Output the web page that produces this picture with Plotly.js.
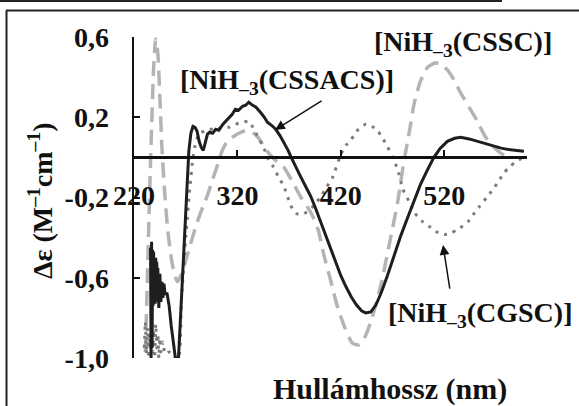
<!DOCTYPE html>
<html>
<head>
<meta charset="utf-8">
<script src="https://cdn.plot.ly/plotly-3.0.1.min.js"></script>
<style>html,body{margin:0;padding:0;background:#fff;}#chart{width:579px;height:406px;}</style>
</head>
<body>
<div id="chart"></div>
<script>
// ---- Data ----
var xTickVals = [220, 320, 420, 520];
var xTickText = ['220', '320', '420', '520'];
var yTickVals = [-1.0, -0.6, -0.2, 0.2, 0.6];
var yTickText = ['-1,0', '-0,6', '-0,2', '0,2', '0,6'];

// [NiH-3(CSSC)] - light gray dashed
var cssc_x = [231,233,235,237,239,241,243,245,247,250,253,256,259,262,266,272,280,287,291,296,301,305,310,318,326,333,340,346,352,358,365,373,381,391,398,404,410,417,424,431,437,441,449,459,467,475,481,486,491,497,504,511,517,524,530,536,544,552,560,568,575,582];
var cssc_y = [-0.97,-0.6,-0.2,0.15,0.45,0.59,0.52,0.3,0.05,-0.2,-0.38,-0.5,-0.58,-0.62,-0.58,-0.48,-0.34,-0.24,-0.19,-0.11,-0.035,0.03,0.08,0.11,0.13,0.13,0.1,0.05,0.01,-0.02,-0.05,-0.12,-0.195,-0.275,-0.36,-0.495,-0.61,-0.75,-0.85,-0.925,-0.935,-0.92,-0.82,-0.63,-0.43,-0.22,-0.02,0.12,0.27,0.38,0.45,0.47,0.465,0.43,0.38,0.32,0.25,0.18,0.1,0.05,0.02,0.0];

// [NiH-3(CGSC)] - gray dotted
var cgsc_x = [230,231,232,233,234,235,236,237,238,239,240,241,242,243,244,245,246,248,250,254,258,263,266,270,274,277,280,283,288,293,300,306,312,318,325,331,336,340,345,349,354,360,365,372,377,382,388,393,400,406,412,420,425,430,437,444,450,456,461,465,470,475,480,486,491,499,507,514,520,527,533,543,548,554,561,567,573,578,583,588,593,597];
var cgsc_y = [-0.95,-0.82,-0.98,-0.85,-1.0,-0.88,-0.95,-0.8,-0.97,-0.86,-1.0,-0.83,-0.95,-0.88,-1.0,-0.9,-0.97,-0.92,-0.98,-0.97,-1.0,-1.0,-0.7,-0.4,-0.15,0.0,0.08,0.12,0.13,0.14,0.14,0.15,0.15,0.165,0.175,0.18,0.14,0.1,0.055,0.0,-0.04,-0.1,-0.145,-0.245,-0.28,-0.285,-0.27,-0.245,-0.2,-0.15,-0.1,0.015,0.06,0.09,0.14,0.165,0.155,0.13,0.09,0.055,0.0,-0.06,-0.16,-0.22,-0.275,-0.32,-0.35,-0.375,-0.385,-0.375,-0.36,-0.32,-0.285,-0.245,-0.2,-0.16,-0.115,-0.075,-0.05,-0.025,-0.01,0.0];

// [NiH-3(CSSACS)] - black solid
var cssacs_x = [236,236.5,237,237.5,238,238.5,239,239.5,240,240.5,241,241.5,242,242.5,243,244,245,246,247,248,249,250,252,254,256,258,260,263,265,267,269,271,273,275,277,279,281,283,285,287,289,291,293,296,299,302,306,309,312,315,318,321,325,328,331,334,338,341,343,346,349,353,357,361,365,369,372,376,381,386,391,396,401,406,410,415,420,425,430,435,440,444,449,454,459,465,471,478,485,491,497,504,510,516,523,530,536,544,552,560,568,575,581,588,594,597];
var cssacs_y = [-0.45,-1.0,-0.42,-0.95,-0.46,-0.74,-0.47,-0.7,-0.5,-0.73,-0.5,-0.7,-0.52,-0.72,-0.55,-0.75,-0.58,-0.72,-0.62,-0.7,-0.63,-0.68,-0.68,-0.74,-0.84,-0.93,-1.0,-1.0,-0.78,-0.55,-0.35,-0.15,0.03,0.12,0.155,0.15,0.13,0.08,0.05,0.035,0.08,0.115,0.125,0.12,0.14,0.135,0.165,0.18,0.2,0.215,0.24,0.235,0.255,0.26,0.275,0.262,0.25,0.235,0.22,0.2,0.175,0.16,0.14,0.11,0.075,0.035,0.0,-0.045,-0.095,-0.145,-0.195,-0.26,-0.33,-0.4,-0.46,-0.53,-0.59,-0.645,-0.695,-0.735,-0.765,-0.775,-0.77,-0.735,-0.675,-0.59,-0.495,-0.39,-0.295,-0.21,-0.135,-0.06,0.0,0.045,0.08,0.095,0.1,0.092,0.08,0.066,0.056,0.046,0.04,0.035,0.03,0.03];

var labelCSSC = '[NiH<sub>–3</sub>(CSSC)]';
var labelCSSACS = '[NiH<sub>–3</sub>(CSSACS)]';
var labelCGSC = '[NiH<sub>–3</sub>(CGSC)]';
var xTitle = 'Hullámhossz (nm)';
var yTitle = 'Δε (M<sup>–1</sup>cm<sup>–1</sup>)';

// ---- Chart ----
var FONT = 'Liberation Serif, Times New Roman, serif';
var INK = '#111111';

var traces = [
  {x: cssc_x, y: cssc_y, type: 'scatter', mode: 'lines', name: labelCSSC,
   line: {color: '#b4b4b4', width: 3.5, dash: '15px,8px', shape: 'spline', smoothing: 0.6}, hoverinfo: 'skip'},
  {x: cgsc_x, y: cgsc_y, type: 'scatter', mode: 'lines', name: labelCGSC,
   line: {color: '#7c7c7c', width: 3, dash: '3px,6px', shape: 'spline', smoothing: 0.5}, hoverinfo: 'skip'},
  {x: cssacs_x, y: cssacs_y, type: 'scatter', mode: 'lines', name: labelCSSACS,
   line: {color: '#1e1e1e', width: 3}, hoverinfo: 'skip'}
];

function lbl(x, y, text, size, angle) {
  return {xref: 'paper', yref: 'paper', x: x, y: y, xanchor: 'center', yanchor: 'middle',
          textangle: angle || 0,
          text: text, showarrow: false, font: {family: FONT, size: size, color: INK, weight: 700}};
}

var layout = {
  width: 579, height: 406,
  margin: {l: 134, r: 52, t: 37, b: 48, pad: 0},
  paper_bgcolor: '#ffffff', plot_bgcolor: 'rgba(0,0,0,0)',
  showlegend: false,
  font: {family: FONT, color: INK},
  xaxis: {
    range: [220, 600], anchor: 'free', position: 0.625,
    showline: true, linecolor: INK, linewidth: 2.5,
    ticks: 'inside', ticklen: 6, tickwidth: 2, tickcolor: INK,
    tickmode: 'array', tickvals: xTickVals, ticktext: xTickText,
    tickfont: {family: FONT, size: 28, color: INK, weight: 700},
    ticklabelstandoff: 13,
    showgrid: false, zeroline: false
  },
  yaxis: {
    range: [-1.0, 0.6],
    showline: true, linecolor: INK, linewidth: 2.5,
    ticks: 'inside', ticklen: 6, tickwidth: 2, tickcolor: INK,
    tickmode: 'array', tickvals: yTickVals, ticktext: yTickText,
    tickfont: {family: FONT, size: 28, color: INK, weight: 700},
    ticklabelstandoff: 17,
    showgrid: false, zeroline: false
  },
  annotations: [
    lbl(0.837, 0.981, labelCSSC, 28),
    lbl(0.389, 0.860, labelCSSACS, 28),
    lbl(0.880, 0.134, labelCGSC, 28),
    lbl(0.651, -0.0966, xTitle, 30),
    lbl(-0.2392, 0.492, yTitle, 28, -90),
    {x: 356.4, y: 0.137, text: '', showarrow: true, ax: 48, ay: -30,
     arrowhead: 2, arrowsize: 1.3, arrowwidth: 1.5, arrowcolor: INK},
    {x: 518.8, y: -0.437, text: '', showarrow: true, ax: 7, ay: 45,
     arrowhead: 2, arrowsize: 1.3, arrowwidth: 1.5, arrowcolor: INK}
  ],
  shapes: [
    {type: 'line', xref: 'paper', yref: 'paper', x0: -0.341, x1: 0.9364, y0: 1.1121, y1: 1.1121, line: {color: '#222', width: 2}},
    {type: 'line', xref: 'paper', yref: 'paper', x0: -0.3257, x1: 1.14, y0: 1.0826, y1: 1.0826, line: {color: '#222', width: 2}},
    {type: 'line', xref: 'paper', yref: 'paper', x0: -0.3244, x1: -0.3244, y0: 1.0826, y1: -0.16, line: {color: '#222', width: 2}}
  ]
};

Plotly.newPlot('chart', traces, layout, {staticPlot: true, displayModeBar: false});
</script>
</body>
</html>
